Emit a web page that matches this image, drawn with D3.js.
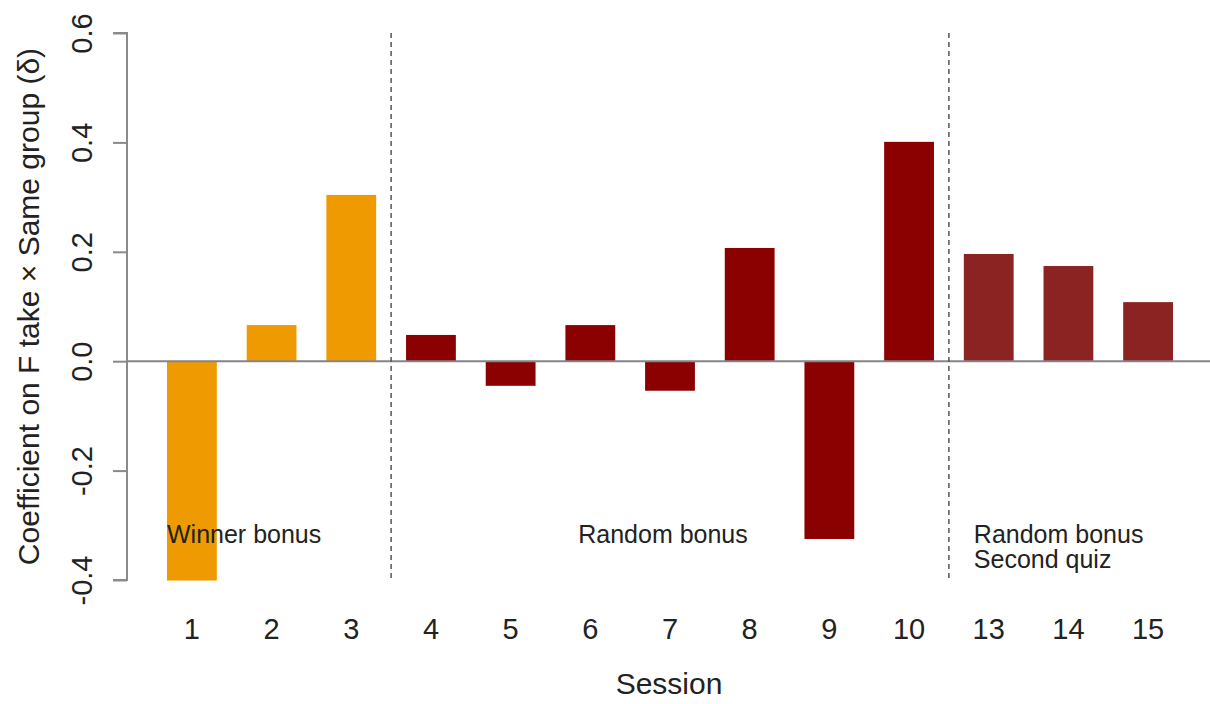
<!DOCTYPE html>
<html>
<head>
<meta charset="utf-8">
<script src="https://cdn.jsdelivr.net/npm/d3@7"></script>
<style>
  body { margin: 0; background: #fff; }
  text { font-family: "Liberation Sans", Arial, Helvetica, sans-serif; fill: #222; }
</style>
</head>
<body>
<svg id="chart"></svg>
<script>

// session labels and coefficients
var sessions = ["1", "2", "3", "4", "5", "6", "7", "8", "9", "10", "13", "14", "15"];
var coefs = [-0.401, 0.066, 0.304, 0.048, -0.045, 0.066, -0.054, 0.207, -0.325, 0.401, 0.196, 0.174, 0.108];
var groups = ["winner", "winner", "winner", "random", "random", "random", "random", "random", "random", "random", "quiz", "quiz", "quiz"];
var yTicks = [-0.4, -0.2, 0.0, 0.2, 0.4, 0.6];

var groupColor = { winner: "#EE9A00", random: "#8B0000", quiz: "#8B2323" };

var svgWidth = 1210;
var svgHeight = 704;

var svg = d3.select("#chart")
    .attr("width", svgWidth)
    .attr("height", svgHeight);

var xScale = d3.scaleBand()
    .domain(sessions)
    .range([167, 1173])
    .paddingInner(0.375)
    .paddingOuter(0);

var yScale = d3.scaleLinear()
    .domain([-0.4, 0.6])
    .range([580, 33]);

var data = sessions.map(function(s, i) {
    return { session: s, value: coefs[i], group: groups[i] };
});

// bars
svg.selectAll("rect.bar")
    .data(data)
    .enter()
    .append("rect")
    .attr("class", "bar")
    .attr("x", function(d) { return xScale(d.session); })
    .attr("width", xScale.bandwidth())
    .attr("y", function(d) { return yScale(Math.max(0, d.value)); })
    .attr("height", function(d) { return Math.abs(yScale(d.value) - yScale(0)); })
    .attr("fill", function(d) { return groupColor[d.group]; });

// zero line
svg.append("line")
    .attr("x1", 127).attr("x2", svgWidth)
    .attr("y1", yScale(0)).attr("y2", yScale(0))
    .attr("stroke", "#858585")
    .attr("stroke-width", 2);

// dashed separators between groups
var step = xScale.step();
var seps = [xScale("3") + xScale.bandwidth() + (step - xScale.bandwidth()) / 2,
            xScale("10") + xScale.bandwidth() + (step - xScale.bandwidth()) / 2];
svg.selectAll("line.sep")
    .data(seps)
    .enter()
    .append("line")
    .attr("class", "sep")
    .attr("x1", function(d) { return d; })
    .attr("x2", function(d) { return d; })
    .attr("y1", yScale(0.6))
    .attr("y2", yScale(-0.4))
    .attr("stroke", "#555")
    .attr("stroke-width", 1.5)
    .attr("stroke-dasharray", "5,4");

// y axis (plain hyphen for negatives, like R)
var yAxis = d3.axisLeft(yScale)
    .tickValues(yTicks)
    .tickSize(14)
    .tickFormat(function(d) { return d.toFixed(1); });

var yg = svg.append("g")
    .attr("transform", "translate(127,0)")
    .call(yAxis);
yg.select(".domain")
    .attr("stroke", "#8a8a8a")
    .attr("stroke-width", 2)
    .attr("d", "M-14," + yScale(0.6) + "H0V" + yScale(-0.4) + "H-14");
yg.selectAll(".tick line")
    .attr("stroke", "#8a8a8a")
    .attr("stroke-width", 2);
yg.selectAll(".tick text")
    .attr("x", 0).attr("y", 0)
    .attr("dy", 0)
    .attr("transform", "translate(-35,0) rotate(-90)")
    .attr("text-anchor", "middle")
    .style("font-family", "'Liberation Sans', Arial, sans-serif")
    .style("font-size", "29px")
    .attr("fill", "#222");

// x labels (bar names)
svg.selectAll("text.xlab")
    .data(sessions)
    .enter()
    .append("text")
    .attr("class", "xlab")
    .attr("x", function(d) { return xScale(d) + xScale.bandwidth() / 2; })
    .attr("y", 639)
    .attr("text-anchor", "middle")
    .style("font-size", "29px")
    .text(function(d) { return d; });

// axis titles
svg.append("text")
    .attr("x", 669)
    .attr("y", 694)
    .attr("text-anchor", "middle")
    .style("font-size", "30px")
    .text("Session");

svg.append("text")
    .attr("transform", "translate(39," + ((yScale(0.6) + yScale(-0.4)) / 2) + ") rotate(-90)")
    .attr("text-anchor", "middle")
    .style("font-size", "30px")
    .text("Coefficient on F take \u00d7 Same group (\u03b4)");

// group annotations
var annSize = "25px";
svg.append("text")
    .attr("x", xScale("1"))
    .attr("y", 543)
    .style("font-size", annSize)
    .text("Winner bonus");

svg.append("text")
    .attr("x", xScale("7") + xScale.bandwidth() / 2 - 7)
    .attr("y", 543)
    .attr("text-anchor", "middle")
    .style("font-size", annSize)
    .text("Random bonus");

var quizLabel = svg.append("text")
    .attr("y", 543)
    .style("font-size", annSize);
quizLabel.append("tspan")
    .attr("x", xScale("13") + 10)
    .text("Random bonus");
quizLabel.append("tspan")
    .attr("x", xScale("13") + 10)
    .attr("dy", 25)
    .text("Second quiz");

</script>
</body>
</html>
